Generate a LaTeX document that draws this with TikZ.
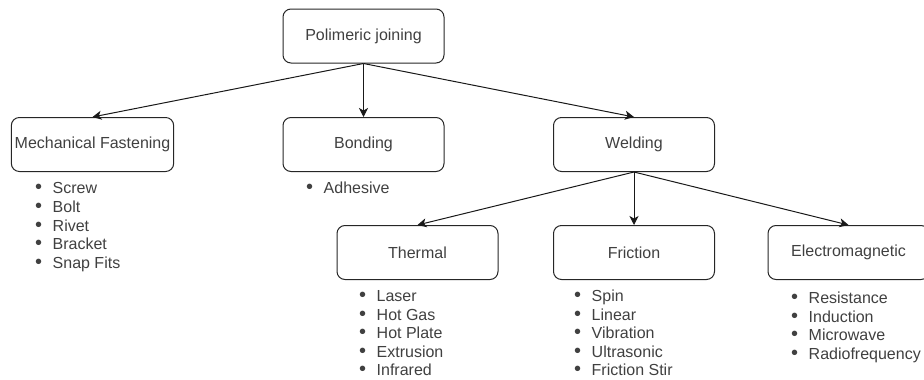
\documentclass[tikz,border=0pt]{standalone}
\usepackage{fontspec}
\setmainfont{Liberation Sans}
\usetikzlibrary{arrows.meta}

\newcommand{\itembullet}{\makebox[17.5pt][l]{\scalebox{1.25}{\textbullet}}}

\begin{document}
\begin{tikzpicture}[x=1pt, y=-1pt,
    box/.style={draw=black!85, line width=1pt, rounded corners=8pt, minimum width=161pt, minimum height=54pt, font=\fontsize{16}{19}\selectfont, text=black!75},
    entry/.style={anchor=base west, inner sep=0pt, font=\fontsize{16}{19}\selectfont, text=black!75},
    link/.style={line width=1pt, black!90, -{Stealth[length=9pt, width=9pt, inset=2.5pt]}}]

    \useasboundingbox (0, 0) rectangle (924, 380);

    \node [box] (poly) at (363.5, 36) {Polimeric joining};

    \node [box] (mech) at (92.5, 144.5) {Mechanical Fastening};
    \node [box] (bond) at (363.5, 144.5) {Bonding};
    \node [box] (weld) at (634, 144.5) {Welding};

    \node [box] (therm) at (417.5, 252.5) {Thermal};
    \node [box] (fric) at (634, 252.5) {Friction};
    \node [box] (elec) at (848.5, 252.5) {Electromagnetic};

    \draw[link] (poly.south) -- (mech.north);
    \draw[link] (poly.south) -- (bond.north);
    \draw[link] (poly.south) -- (weld.north);
    \draw[link] (weld.south) -- (therm.north);
    \draw[link] (weld.south) -- (fric.north);
    \draw[link] (weld.south) -- (elec.north);

    % bullet lists
    \foreach \txt [count=\i] in {Screw, Bolt, Rivet, Bracket, Snap Fits}
        \node [entry] (mech\i) at (35, {193.7 + 18.75*(\i-1)}) {\itembullet\txt};
    \node [entry] (bond1) at (306, 193.7) {\itembullet Adhesive};
    \foreach \txt [count=\i] in {Laser, Hot Gas, Hot Plate, Extrusion, Infrared}
        \node [entry] (therm\i) at (359, {301.5 + 18.6*(\i-1)}) {\itembullet\txt};
    \foreach \txt [count=\i] in {Spin, Linear, Vibration, Ultrasonic, Friction Stir}
        \node [entry] (fric\i) at (574, {301.5 + 18.6*(\i-1)}) {\itembullet\txt};
    \foreach \txt [count=\i] in {Resistance, Induction, Microwave, Radiofrequency}
        \node [entry] (elec\i) at (791, {303.5 + 18.6*(\i-1)}) {\itembullet\txt};

\end{tikzpicture}
\end{document}
